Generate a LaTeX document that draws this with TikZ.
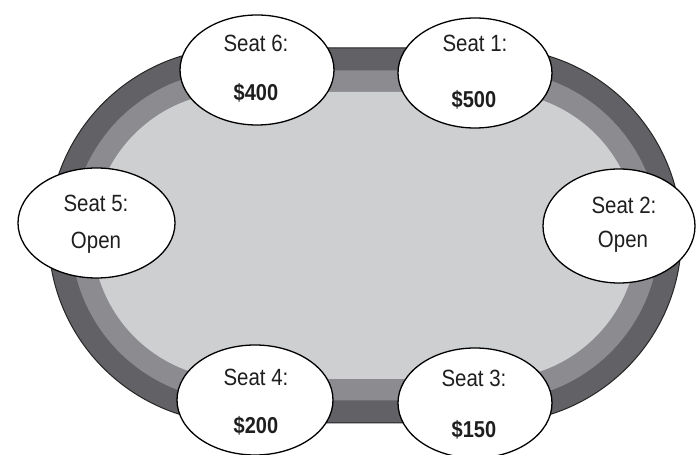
\documentclass[tikz,border=0pt]{standalone}
\usepackage{fontspec}
\setmainfont{Liberation Sans}
\usetikzlibrary{shapes.geometric}
\definecolor{rimdark}{RGB}{98,98,102}
\definecolor{rimmid}{RGB}{140,140,144}
\definecolor{felt}{RGB}{206,207,209}
\definecolor{txt}{RGB}{30,30,30}
\tikzset{
  seat/.style={ellipse, draw=black, line width=1.3pt, fill=white, inner sep=0pt},
  lbl/.style={text=txt, inner sep=0pt, font=\fontsize{23.5}{25}\selectfont},
  amt/.style={text=txt, inner sep=0pt, font=\fontsize{23}{25}\selectfont\bfseries},
}
\newcommand{\stadium}[1]{(236,219.5+#1) -- (494,219.5+#1) arc[start angle=90, end angle=-90, radius=#1] -- (236,219.5-#1) arc[start angle=270, end angle=90, radius=#1] -- cycle}
\newcommand{\sq}[1]{\scalebox{0.87}[1]{#1}}
\begin{document}
\begin{tikzpicture}[x=1pt,y=1pt]
\useasboundingbox (0,0) rectangle (699,455);
\fill[white] (0,0) rectangle (699,455);
% table
\fill[rimdark] \stadium{187.5};
\fill[rimmid] \stadium{165};
\fill[felt] \stadium{143.5};
\draw[black!85, line width=1pt] \stadium{187.5};
% seats
\node[seat, minimum width=154pt, minimum height=110pt] (s6) at (257,385) {};
\node[seat, minimum width=154pt, minimum height=110pt] (s1) at (475,382) {};
\node[seat, minimum width=157pt, minimum height=110pt] (s5) at (96.5,232) {};
\node[seat, minimum width=152pt, minimum height=114pt] (s2) at (619,229) {};
\node[seat, minimum width=156pt, minimum height=110pt] (s4) at (255,55) {};
\node[seat, minimum width=154pt, minimum height=110pt] (s3) at (475,52) {};
% labels
\node[lbl] (t6) at (256,412) {\sq{Seat 6:}};
\node[amt] (a6) at (256,362) {\sq{\$400}};
\node[lbl] (t1) at (475,412) {\sq{Seat 1:}};
\node[amt] (a1) at (474,355) {\sq{\$500}};
\node[lbl] (t5) at (96,252) {\sq{Seat 5:}};
\node[lbl] (o5) at (96,212) {\sq{Open}};
\node[lbl] (t2) at (624,250) {\sq{Seat 2:}};
\node[lbl] (o2) at (623,213) {\sq{Open}};
\node[lbl] (t4) at (256,78) {\sq{Seat 4:}};
\node[amt] (a4) at (256,29) {\sq{\$200}};
\node[lbl] (t3) at (474,77) {\sq{Seat 3:}};
\node[amt] (a3) at (474,25) {\sq{\$150}};
\end{tikzpicture}
\end{document}
